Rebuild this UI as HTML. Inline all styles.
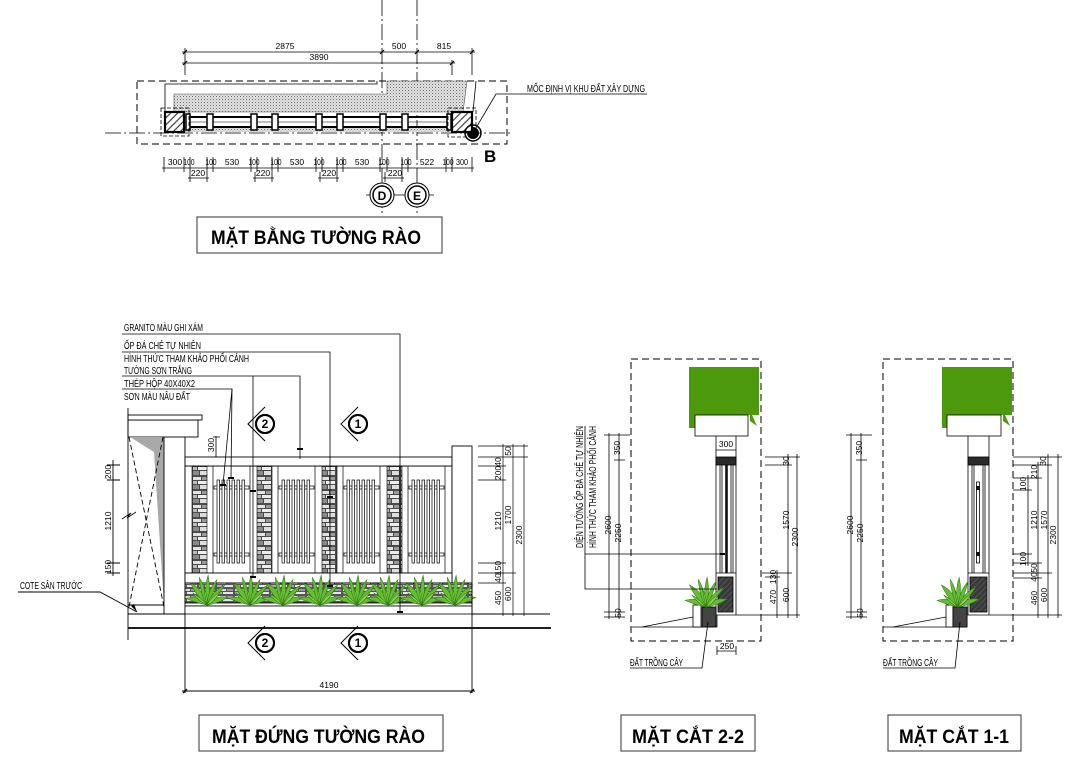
<!DOCTYPE html>
<html><head><meta charset="utf-8">
<style>
html,body{margin:0;padding:0;background:#fff}
svg{display:block}
text{font-family:"Liberation Sans",sans-serif;fill:#000}
.t{font-size:10px}
.n{font-size:8.5px}
.tt{font-size:19px;font-weight:bold}
</style></head><body>
<svg width="1080" height="774" viewBox="0 0 1080 774" xmlns="http://www.w3.org/2000/svg">
<defs>
<pattern id="dots" width="3" height="3" patternUnits="userSpaceOnUse"><rect width="3" height="3" fill="#e4e4e4"/><rect width="1" height="1" fill="#666"/><rect x="1.5" y="1.5" width="1" height="1" fill="#999"/></pattern>
<pattern id="hatch" width="5" height="5" patternUnits="userSpaceOnUse" patternTransform="rotate(45)"><rect width="5" height="5" fill="#fff"/><line x1="0" y1="0" x2="0" y2="5" stroke="#333" stroke-width="2.2"/></pattern>
<pattern id="hatchd" width="4" height="4" patternUnits="userSpaceOnUse" patternTransform="rotate(45)"><rect width="4" height="4" fill="#3a3a3a"/><line x1="0" y1="0" x2="0" y2="4" stroke="#777" stroke-width="0.8"/></pattern>
<pattern id="st" width="16" height="14" patternUnits="userSpaceOnUse">
<rect width="16" height="14" fill="#4a4a4a"/>
<rect x="1" y="1" width="8" height="3" fill="#e2e2e2"/>
<rect x="10" y="1" width="5" height="3" fill="#999"/>
<rect x="1" y="5" width="4" height="3" fill="#bdbdbd"/>
<rect x="6" y="5" width="9" height="3" fill="#eee"/>
<rect x="1" y="9" width="6" height="4" fill="#8a8a8a"/>
<rect x="8" y="9" width="7" height="4" fill="#ddd"/>
</pattern>
<pattern id="st2" width="18" height="7" patternUnits="userSpaceOnUse">
<rect width="18" height="7" fill="#555"/>
<rect x="1" y="1" width="9" height="2" fill="#ddd"/>
<rect x="11" y="1" width="6" height="2" fill="#999"/>
<rect x="1" y="4" width="5" height="2" fill="#aaa"/>
<rect x="7" y="4" width="10" height="2" fill="#e6e6e6"/>
</pattern>
<g id="pl" fill="#66bd32" stroke="#2f7a12" stroke-width="0.5">
<path d="M0 0 Q-6 -10 -19 -6 Q-10 -2 0 0Z"/>
<path d="M0 0 Q-3 -14 -15 -20 Q-9 -7 0 0Z"/>
<path d="M0 0 Q-1 -16 -7 -25 Q-6 -10 0 0Z"/>
<path d="M0 0 Q-3 -14 1 -27 Q4 -13 0 0Z"/>
<path d="M0 0 Q1 -14 9 -23 Q6 -9 0 0Z"/>
<path d="M0 0 Q4 -12 16 -18 Q8 -5 0 0Z"/>
<path d="M0 0 Q7 -9 19 -7 Q9 -1 0 0Z"/>
<path d="M0 0 Q-5 -6 -13 -11 Q-7 -3 0 0Z" fill="#8fd05a"/>
<path d="M0 0 Q4 -7 12 -12 Q6 -2 0 0Z" fill="#8fd05a"/>
<path d="M0 0 Q-2 -9 -3 -16 Q1 -8 0 0Z" fill="#8fd05a"/>
</g>
<g id="sm">
<circle cx="0" cy="0" r="9" fill="#fff" stroke="#000" stroke-width="2"/>
<polyline points="0,-17 -17,0 0,17" fill="none" stroke="#000" stroke-width="1"/>
<circle cx="0" cy="0" r="9" fill="none" stroke="#000" stroke-width="2"/>
</g>
</defs>

<!-- ================= PLAN ================= -->
<g stroke="#000" fill="none" stroke-width="0.8">
<line x1="382" y1="0" x2="382" y2="215" stroke-dasharray="16 3 2 3"/>
<line x1="417" y1="0" x2="417" y2="215" stroke-dasharray="16 3 2 3"/>
<line x1="105" y1="133" x2="512" y2="133" stroke-dasharray="16 3 2 3"/>
<rect x="137" y="81" width="370" height="63" stroke-dasharray="7 4" stroke-width="1"/>
<line x1="182" y1="52" x2="475" y2="52"/>
<line x1="182" y1="63" x2="455" y2="63"/>
<line x1="185" y1="48" x2="185" y2="75"/>
<line x1="452" y1="60" x2="452" y2="75"/>
<line x1="472" y1="48" x2="472" y2="75"/>
<line x1="183" y1="54" x2="187" y2="50" stroke-width="1.2"/>
<line x1="380" y1="54" x2="384" y2="50" stroke-width="1.2"/>
<line x1="415" y1="54" x2="419" y2="50" stroke-width="1.2"/>
<line x1="470" y1="54" x2="474" y2="50" stroke-width="1.2"/>
<line x1="183" y1="65" x2="187" y2="61" stroke-width="1.2"/>
<line x1="450" y1="65" x2="454" y2="61" stroke-width="1.2"/>
</g>
<text class="n" x="285" y="49" text-anchor="middle">2875</text>
<text class="n" x="319" y="60" text-anchor="middle">3890</text>
<text class="n" x="399" y="49" text-anchor="middle">500</text>
<text class="n" x="444" y="49" text-anchor="middle">815</text>
<polygon points="174,94 387,94 387,81 467,81 463,112 174,112" fill="url(#dots)" stroke="#555" stroke-width="0.6"/>
<polyline points="165,112 165,84 377,84 377,81" fill="none" stroke="#000" stroke-width="0.8"/>
<line x1="476" y1="81" x2="473" y2="112" stroke="#000" stroke-width="0.8"/>
<rect x="184" y="127" width="268" height="5" fill="url(#dots)"/>
<line x1="186" y1="117" x2="450" y2="117" stroke="#000" stroke-width="2"/>
<line x1="186" y1="127" x2="450" y2="127" stroke="#000" stroke-width="2"/>
<line x1="186" y1="122" x2="450" y2="122" stroke="#000" stroke-width="0.5"/>
<g fill="#fff" stroke="#000" stroke-width="1.5">
<rect x="186" y="114" width="4" height="16"/>
<rect x="207" y="114" width="6" height="16"/>
<rect x="251" y="114" width="6" height="16"/>
<rect x="272" y="114" width="6" height="16"/>
<rect x="316" y="114" width="6" height="16"/>
<rect x="337" y="114" width="6" height="16"/>
<rect x="380" y="114" width="6" height="16"/>
<rect x="402" y="114" width="6" height="16"/>
<rect x="447" y="114" width="4" height="16"/>
</g>
<rect x="161" y="108" width="28" height="28" fill="none" stroke="#000" stroke-width="0.8" stroke-dasharray="4 2"/>
<rect x="448" y="108" width="28" height="29" fill="none" stroke="#000" stroke-width="0.8" stroke-dasharray="4 2"/>
<rect x="165" y="112" width="19" height="20" fill="url(#hatch)" stroke="#000" stroke-width="2.2"/>
<rect x="452" y="112" width="20" height="20" fill="url(#hatch)" stroke="#000" stroke-width="2.2"/>
<circle cx="473" cy="133" r="8" fill="none" stroke="#000" stroke-width="1.5"/>
<path d="M473 133 L473 127 A6 6 0 1 1 467 133 Z" fill="#000"/>
<polyline points="473,133 496,94 647,94" fill="none" stroke="#000" stroke-width="0.8"/>
<text class="t" x="527" y="92" textLength="118" lengthAdjust="spacingAndGlyphs">MỐC ĐỊNH VỊ KHU ĐẤT XÂY DỰNG</text>
<text x="484" y="162" style="font-size:17px;font-weight:bold">B</text>
<g stroke="#000" stroke-width="0.8" fill="none">
<line x1="162" y1="168" x2="474" y2="168"/>
<path d="M164 157V172M184 157V172M190 157V172M207 157V172M213 157V172M251 157V172M257 157V172M272 157V172M278 157V172M316 157V172M322 157V172M337 157V172M343 157V172M380 157V172M387 157V172M402 157V172M408 157V172M446 157V172M452 157V172M472 157V172"/>
<path d="M188 178H209M253 178H274M318 178H339M383 178H404"/>
<path d="M190 172V182M207 172V182M255 172V182M272 172V182M320 172V182M337 172V182M385 172V182M402 172V182"/>
</g>
<g class="n" text-anchor="middle">
<text x="175" y="165">300</text><text x="189" y="165" textLength="11" lengthAdjust="spacingAndGlyphs">100</text><text x="211" y="165" textLength="11" lengthAdjust="spacingAndGlyphs">100</text><text x="232" y="165">530</text>
<text x="254" y="165" textLength="11" lengthAdjust="spacingAndGlyphs">100</text><text x="276" y="165" textLength="11" lengthAdjust="spacingAndGlyphs">100</text><text x="297" y="165">530</text>
<text x="319" y="165" textLength="11" lengthAdjust="spacingAndGlyphs">100</text><text x="341" y="165" textLength="11" lengthAdjust="spacingAndGlyphs">100</text><text x="362" y="165">530</text>
<text x="384" y="165" textLength="11" lengthAdjust="spacingAndGlyphs">100</text><text x="406" y="165" textLength="11" lengthAdjust="spacingAndGlyphs">100</text><text x="427" y="165">522</text>
<text x="448" y="165" textLength="11" lengthAdjust="spacingAndGlyphs">100</text><text x="462" y="165" textLength="12" lengthAdjust="spacingAndGlyphs">300</text>
<text x="198" y="176">220</text><text x="263" y="176">220</text><text x="329" y="176">220</text><text x="395" y="176">220</text>
</g>
<g stroke="#000" fill="#fff">
<line x1="366" y1="195" x2="434" y2="195" stroke-width="0.8"/>
<circle cx="382" cy="195" r="12" stroke-width="1"/>
<circle cx="382" cy="195" r="9" stroke-width="1.5"/>
<circle cx="417" cy="195" r="12" stroke-width="1"/>
<circle cx="417" cy="195" r="9" stroke-width="1.5"/>
</g>
<text x="382" y="200" text-anchor="middle" style="font-size:12px;font-weight:bold">D</text>
<text x="417" y="200" text-anchor="middle" style="font-size:12px;font-weight:bold">E</text>
<rect x="197" y="217" width="245" height="36" fill="#fff" stroke="#555" stroke-width="1.2"/>
<text class="tt" x="211" y="244" textLength="210" lengthAdjust="spacingAndGlyphs">MẶT BẰNG TƯỜNG RÀO</text>

<!-- ================= ELEVATION ================= -->
<g class="t">
<text x="124" y="331" textLength="79" lengthAdjust="spacingAndGlyphs">GRANITO MÀU GHI XÁM</text>
<text x="124" y="349" textLength="77" lengthAdjust="spacingAndGlyphs">ỐP ĐÁ CHẺ TỰ NHIÊN</text>
<text x="124" y="362" textLength="125" lengthAdjust="spacingAndGlyphs">HÌNH THỨC THAM KHẢO PHỐI CẢNH</text>
<text x="124" y="374" textLength="68" lengthAdjust="spacingAndGlyphs">TƯỜNG SƠN TRẮNG</text>
<text x="124" y="387" textLength="71" lengthAdjust="spacingAndGlyphs">THÉP HỘP 40X40X2</text>
<text x="124" y="400" textLength="66" lengthAdjust="spacingAndGlyphs">SƠN MÀU NÂU ĐẤT</text>
<text x="20" y="589" textLength="62" lengthAdjust="spacingAndGlyphs">COTE SÂN TRƯỚC</text>
</g>
<g stroke="#000" stroke-width="0.9" fill="#fff">
<rect x="128" y="420" width="70" height="17"/>
<rect x="128" y="415" width="74" height="5"/>
</g>
<polygon points="130,437 164,437 164,605 154,452" fill="#a8a8a8"/>
<g stroke="#000" stroke-width="0.9" fill="none">
<line x1="128" y1="408" x2="128" y2="640"/>
<line x1="164" y1="437" x2="164" y2="614"/>
<line x1="185" y1="437" x2="185" y2="693"/>
<line x1="129" y1="437" x2="164" y2="607" stroke-dasharray="5 3"/>
<line x1="163" y1="437" x2="129" y2="607" stroke-dasharray="5 3"/>
<line x1="128" y1="605" x2="164" y2="605"/>
<polyline points="122,519 131,513 127,518 136,512" stroke-width="0.8"/>
<line x1="113" y1="460" x2="113" y2="576"/>
<path d="M107 465H120M107 480H120M107 563H120M107 573H120"/>
<polyline points="18,592 100,592 137,612"/>
</g>
<polygon points="137,612 131,606 134,604" fill="#000"/>
<g class="n" text-anchor="middle">
<text transform="translate(111,472) rotate(-90)">200</text>
<text transform="translate(111,521) rotate(-90)">1210</text>
<text transform="translate(111,567) rotate(-90)">150</text>
<text transform="translate(214,445) rotate(-90)">300</text>
</g>
<path d="M216 436V457M213 437H220" stroke="#000" stroke-width="0.8"/>

<rect x="185" y="466" width="267" height="107" fill="#fff" stroke="#000" stroke-width="0.9"/>
<g fill="url(#st)" stroke="#000" stroke-width="0.6">
<rect x="192" y="466" width="15" height="107"/>
<rect x="257" y="466" width="15" height="107"/>
<rect x="322" y="466" width="15" height="107"/>
<rect x="387" y="466" width="15" height="107"/>
</g>
<g fill="#fff" stroke="#000" stroke-width="0.7">
<rect x="213" y="466" width="37" height="107"/>
<rect x="278" y="466" width="37" height="107"/>
<rect x="343" y="466" width="37" height="107"/>
<rect x="408" y="466" width="37" height="107"/>
</g>
<g fill="#fff" stroke="#000" stroke-width="0.7">
<rect x="214" y="486" width="35" height="3"/><rect x="214" y="553" width="35" height="3"/>
<rect x="279" y="486" width="35" height="3"/><rect x="279" y="553" width="35" height="3"/>
<rect x="344" y="486" width="35" height="3"/><rect x="344" y="553" width="35" height="3"/>
<rect x="409" y="486" width="35" height="3"/><rect x="409" y="553" width="35" height="3"/>
</g>
<g fill="#fff" stroke="#000" stroke-width="0.7">
<rect x="217" y="480" width="2.6" height="83"/><rect x="222" y="480" width="2.6" height="83"/><rect x="227" y="480" width="2.6" height="83"/><rect x="232" y="480" width="2.6" height="83"/><rect x="237" y="480" width="2.6" height="83"/><rect x="242" y="480" width="2.6" height="83"/>
<rect x="282" y="480" width="2.6" height="83"/><rect x="287" y="480" width="2.6" height="83"/><rect x="292" y="480" width="2.6" height="83"/><rect x="297" y="480" width="2.6" height="83"/><rect x="302" y="480" width="2.6" height="83"/><rect x="307" y="480" width="2.6" height="83"/>
<rect x="347" y="480" width="2.6" height="83"/><rect x="352" y="480" width="2.6" height="83"/><rect x="357" y="480" width="2.6" height="83"/><rect x="362" y="480" width="2.6" height="83"/><rect x="367" y="480" width="2.6" height="83"/><rect x="372" y="480" width="2.6" height="83"/>
<rect x="412" y="480" width="2.6" height="83"/><rect x="417" y="480" width="2.6" height="83"/><rect x="422" y="480" width="2.6" height="83"/><rect x="427" y="480" width="2.6" height="83"/><rect x="432" y="480" width="2.6" height="83"/><rect x="437" y="480" width="2.6" height="83"/>
</g>
<rect x="185" y="457" width="267" height="9" fill="#fff" stroke="#000" stroke-width="0.9"/>
<rect x="452" y="446" width="20" height="137" fill="#fff" stroke="#000" stroke-width="0.9"/>
<rect x="185" y="573" width="267" height="10" fill="#fff" stroke="#000" stroke-width="0.9"/>
<rect x="185" y="583" width="287" height="20" fill="url(#st2)" stroke="#000" stroke-width="0.9"/>
<rect x="185" y="603" width="287" height="3" fill="#fff" stroke="#000" stroke-width="0.8"/>
<rect x="185" y="606" width="287" height="8" fill="#fff" stroke="#000" stroke-width="0.8"/>
<g transform="translate(207 605) scale(1.1)"><use href="#pl"/></g>
<g transform="translate(250 605) scale(1.1)"><use href="#pl"/></g>
<g transform="translate(283 605) scale(1.1)"><use href="#pl"/></g>
<g transform="translate(320 605) scale(1.1)"><use href="#pl"/></g>
<g transform="translate(357 605) scale(1.1)"><use href="#pl"/></g>
<g transform="translate(388 605) scale(1.1)"><use href="#pl"/></g>
<g transform="translate(422 605) scale(1.1)"><use href="#pl"/></g>
<g transform="translate(455 605) scale(1.1)"><use href="#pl"/></g>
<g stroke="#000" fill="none">
<line x1="128" y1="614" x2="185" y2="614" stroke-width="0.9"/>
<line x1="472" y1="614" x2="550" y2="614" stroke-width="0.9"/>
<line x1="128" y1="628" x2="551" y2="628" stroke-width="1.8"/>
<line x1="472" y1="583" x2="472" y2="693" stroke-width="0.9"/>
<line x1="182" y1="691" x2="475" y2="691" stroke-width="0.9"/>
<line x1="183" y1="693" x2="187" y2="689" stroke-width="1.2"/>
<line x1="470" y1="693" x2="474" y2="689" stroke-width="1.2"/>
</g>
<text class="n" x="329" y="688" text-anchor="middle">4190</text>
<g stroke="#000" stroke-width="0.8" fill="none">
<polyline points="122,334 400,334 400,612"/>
<polyline points="122,352 330,352 330,586"/>
<polyline points="122,376 300,376 300,459"/>
<polyline points="253,376 253,577"/>
<polyline points="122,389 232,389 223,485"/>
<line x1="232" y1="389" x2="231" y2="478"/>
</g>
<g fill="#000">
<rect x="397" y="611" width="6" height="2"/>
<rect x="327" y="585" width="6" height="2"/>
<rect x="327" y="496" width="6" height="2"/>
<rect x="297" y="448" width="6" height="2"/>
<rect x="250" y="490" width="6" height="2"/>
<rect x="250" y="576" width="6" height="2"/>
<rect x="220" y="484" width="6" height="2"/>
<rect x="228" y="477" width="6" height="2"/>
</g>
<use href="#sm" x="265" y="424"/>
<use href="#sm" x="358" y="424"/>
<use href="#sm" x="265" y="643"/>
<use href="#sm" x="358" y="643"/>
<g text-anchor="middle" style="font-size:12px;font-weight:bold">
<text x="265" y="428">2</text><text x="358" y="428">1</text>
<text x="265" y="647">2</text><text x="358" y="647">1</text>
</g>
<g stroke="#000" stroke-width="0.7" fill="none">
<path d="M478 446H528M478 457H528M478 466H506M478 480H506M478 563H506M478 573H516M478 583H506M478 614H528"/>
<line x1="503" y1="444" x2="503" y2="616"/>
<line x1="513" y1="444" x2="513" y2="616"/>
<line x1="524" y1="444" x2="524" y2="616"/>
</g>
<g class="n" text-anchor="middle">
<text transform="translate(501,462) rotate(-90)">40</text>
<text transform="translate(501,473) rotate(-90)">200</text>
<text transform="translate(501,521) rotate(-90)">1210</text>
<text transform="translate(501,568) rotate(-90)">150</text>
<text transform="translate(501,578) rotate(-90)">40</text>
<text transform="translate(501,598) rotate(-90)">450</text>
<text transform="translate(511,451) rotate(-90)">50</text>
<text transform="translate(511,515) rotate(-90)">1700</text>
<text transform="translate(511,594) rotate(-90)">600</text>
<text transform="translate(522,535) rotate(-90)">2300</text>
</g>
<rect x="199" y="715" width="244" height="36" fill="#fff" stroke="#555" stroke-width="1.2"/>
<text class="tt" x="212" y="743" textLength="213" lengthAdjust="spacingAndGlyphs">MẶT ĐỨNG TƯỜNG RÀO</text>

<!-- ================= SECTION 2-2 ================= -->
<rect x="631" y="359" width="130" height="282" fill="none" stroke="#000" stroke-width="1" stroke-dasharray="7 4"/>
<path d="M689 367H759V415H752L757 426L750 421V415H697V428H689Z" fill="#4c9a0c"/>
<rect x="695" y="415" width="53" height="21" fill="#fff" stroke="#000" stroke-width="0.8"/>
<g stroke="#000" stroke-width="0.8" fill="none">
<line x1="716" y1="436" x2="716" y2="615"/>
<line x1="736" y1="436" x2="736" y2="615"/>
<line x1="720" y1="465" x2="720" y2="573"/>
<line x1="722" y1="465" x2="722" y2="573"/>
<line x1="731" y1="465" x2="731" y2="573"/>
<line x1="733" y1="465" x2="733" y2="573"/>
<line x1="716" y1="573" x2="736" y2="573"/>
<line x1="716" y1="615" x2="760" y2="615"/>
<line x1="717" y1="615" x2="717" y2="627"/>
<line x1="632" y1="627" x2="717" y2="627"/>
<line x1="642" y1="627" x2="693" y2="617"/>
<line x1="716" y1="450" x2="736" y2="450"/>
</g>
<line x1="726.5" y1="465" x2="726.5" y2="573" stroke="#111" stroke-width="2.6"/>
<rect x="716" y="457" width="20" height="8" fill="#2a2a2a" stroke="#000" stroke-width="0.8"/>
<rect x="718" y="577" width="15" height="35" fill="url(#hatchd)" stroke="#000" stroke-width="0.8"/>
<rect x="693" y="605" width="8" height="22" fill="#fff" stroke="#000" stroke-width="0.8"/>
<rect x="702" y="607" width="14" height="20" fill="#444" stroke="#000" stroke-width="0.8"/>
<g transform="translate(706 607) scale(1.1)"><use href="#pl"/></g>
<text class="n" x="726" y="447" text-anchor="middle">300</text>
<g class="t" text-anchor="middle">
<text transform="translate(583,487) rotate(-90)" textLength="122" lengthAdjust="spacingAndGlyphs">DIỆN TƯỜNG ỐP ĐÁ CHẺ TỰ NHIÊN</text>
<text transform="translate(596,487) rotate(-90)" textLength="122" lengthAdjust="spacingAndGlyphs">HÌNH THỨC THAM KHẢO PHỐI CẢNH</text>
</g>
<g stroke="#000" stroke-width="0.8" fill="none">
<polyline points="585,426 585,589 717,589"/>
<line x1="585" y1="554" x2="723" y2="554"/>
<line x1="609" y1="433" x2="609" y2="619"/>
<line x1="619" y1="433" x2="619" y2="619"/>
<path d="M604 435H630M614 460H625M604 612H625M604 617H625"/>
<path d="M765 457H800M765 465H792M762 573H792M765 577H780M760 615H800"/>
<line x1="777" y1="570" x2="777" y2="618"/>
<line x1="788" y1="454" x2="788" y2="618"/>
<line x1="797" y1="454" x2="797" y2="618"/>
<line x1="717" y1="651" x2="736" y2="651"/>
<path d="M717 646V655M736 646V655"/>
<polyline points="630,668 702,668 708,622"/>
</g>
<rect x="720" y="553" width="5" height="2" fill="#000"/>
<g class="n" text-anchor="middle">
<text transform="translate(620,448) rotate(-90)">350</text>
<text transform="translate(611,525) rotate(-90)">2600</text>
<text transform="translate(621,533) rotate(-90)">2250</text>
<text transform="translate(621,613) rotate(-90)">50</text>
<text transform="translate(789,461) rotate(-90)">30</text>
<text transform="translate(789,520) rotate(-90)">1570</text>
<text transform="translate(798,537) rotate(-90)">2300</text>
<text transform="translate(776,577) rotate(-90)">130</text>
<text transform="translate(776,597) rotate(-90)">470</text>
<text transform="translate(789,595) rotate(-90)">600</text>
<text x="727" y="649">250</text>
</g>
<text class="t" x="630" y="666" textLength="53" lengthAdjust="spacingAndGlyphs">ĐẤT TRỒNG CÂY</text>
<rect x="621" y="715" width="134" height="36" fill="#fff" stroke="#555" stroke-width="1.2"/>
<text class="tt" x="632" y="743" textLength="112" lengthAdjust="spacingAndGlyphs">MẶT CẮT 2-2</text>

<!-- ================= SECTION 1-1 ================= -->
<rect x="883" y="359" width="130" height="282" fill="none" stroke="#000" stroke-width="1" stroke-dasharray="7 4"/>
<path d="M942 367H1012V415H1005L1010 426L1003 421V415H950V428H942Z" fill="#4c9a0c"/>
<rect x="947" y="415" width="54" height="21" fill="#fff" stroke="#000" stroke-width="0.8"/>
<g stroke="#000" stroke-width="0.8" fill="none">
<line x1="968" y1="436" x2="968" y2="615"/>
<line x1="989" y1="436" x2="989" y2="615"/>
<line x1="972" y1="465" x2="972" y2="573"/>
<line x1="974" y1="465" x2="974" y2="573"/>
<line x1="983" y1="465" x2="983" y2="573"/>
<line x1="985" y1="465" x2="985" y2="573"/>
<line x1="968" y1="573" x2="989" y2="573"/>
<line x1="967" y1="615" x2="1013" y2="615"/>
<line x1="967" y1="615" x2="967" y2="627"/>
<line x1="883" y1="627" x2="967" y2="627"/>
<line x1="893" y1="627" x2="946" y2="617"/>
<rect x="976.5" y="482" width="3" height="81"/>
</g>
<rect x="976" y="486" width="4" height="4" fill="#111"/>
<rect x="976" y="552" width="4" height="4" fill="#111"/>
<rect x="968" y="457" width="21" height="8" fill="#2a2a2a" stroke="#000" stroke-width="0.8"/>
<rect x="970" y="577" width="17" height="35" fill="url(#hatchd)" stroke="#000" stroke-width="0.8"/>
<rect x="946" y="605" width="7" height="22" fill="#fff" stroke="#000" stroke-width="0.8"/>
<rect x="953" y="607" width="14" height="20" fill="#444" stroke="#000" stroke-width="0.8"/>
<g transform="translate(958 607) scale(1.1)"><use href="#pl"/></g>
<g stroke="#000" stroke-width="0.8" fill="none">
<line x1="851" y1="433" x2="851" y2="619"/>
<line x1="861" y1="433" x2="861" y2="619"/>
<path d="M846 435H872M856 460H867M846 612H867M846 617H867"/>
<path d="M1013 457H1062M1013 465H1052M1013 478H1042M1013 490H1032M1013 554H1032M1013 563H1042M1013 573H1052M1013 578H1042M1013 615H1062"/>
<line x1="1028" y1="475" x2="1028" y2="566"/>
<line x1="1038" y1="462" x2="1038" y2="618"/>
<line x1="1048" y1="454" x2="1048" y2="618"/>
<line x1="1058" y1="454" x2="1058" y2="618"/>
<polyline points="883,668 955,668 960,622"/>
</g>
<g class="n" text-anchor="middle">
<text transform="translate(862,448) rotate(-90)">350</text>
<text transform="translate(853,525) rotate(-90)">2600</text>
<text transform="translate(863,533) rotate(-90)">2250</text>
<text transform="translate(863,613) rotate(-90)">50</text>
<text transform="translate(1046,461) rotate(-90)">30</text>
<text transform="translate(1037,472) rotate(-90)">210</text>
<text transform="translate(1026,484) rotate(-90)">100</text>
<text transform="translate(1037,520) rotate(-90)">1210</text>
<text transform="translate(1047,520) rotate(-90)">1570</text>
<text transform="translate(1056,535) rotate(-90)">2300</text>
<text transform="translate(1026,559) rotate(-90)">100</text>
<text transform="translate(1037,568) rotate(-90)">50</text>
<text transform="translate(1037,577) rotate(-90)">40</text>
<text transform="translate(1037,598) rotate(-90)">460</text>
<text transform="translate(1047,595) rotate(-90)">600</text>
</g>
<text class="t" x="883" y="666" textLength="55" lengthAdjust="spacingAndGlyphs">ĐẤT TRỒNG CÂY</text>
<rect x="888" y="715" width="133" height="36" fill="#fff" stroke="#555" stroke-width="1.2"/>
<text class="tt" x="899" y="743" textLength="110" lengthAdjust="spacingAndGlyphs">MẶT CẮT 1-1</text>
</svg>
</body></html>
